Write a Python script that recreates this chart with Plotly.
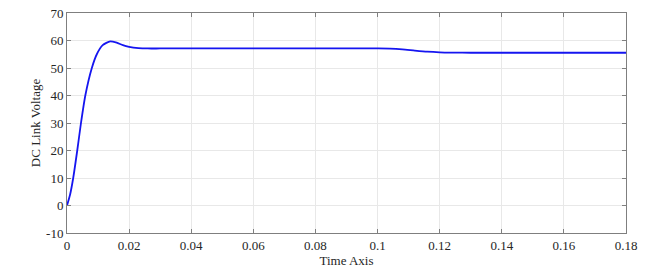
import plotly.graph_objects as go

time_s = [0.0, 0.001, 0.002, 0.0033, 0.0045, 0.0059, 0.008, 0.0096, 0.0115, 0.0139,
          0.016, 0.018, 0.020, 0.023, 0.026, 0.03, 0.05, 0.07, 0.09, 0.1, 0.104,
          0.108, 0.112, 0.116, 0.12, 0.124, 0.13, 0.15, 0.18]
dc_link_voltage = [0.0, 4.0, 10.0, 20.0, 30.0, 40.0, 50.0, 55.0, 58.3, 59.7,
                   59.2, 58.3, 57.7, 57.25, 57.1, 57.1, 57.1, 57.1, 57.1, 57.1, 57.05,
                   56.8, 56.35, 55.95, 55.7, 55.6, 55.55, 55.55, 55.55]

x_ticks = [0, 0.02, 0.04, 0.06, 0.08, 0.1, 0.12, 0.14, 0.16, 0.18]
x_tick_text = ["0", "0.02", "0.04", "0.06", "0.08", "0.1", "0.12", "0.14", "0.16", "0.18"]
y_ticks = [-10, 0, 10, 20, 30, 40, 50, 60, 70]
y_tick_text = ["-10", "0", "10", "20", "30", "40", "50", "60", "70"]

fig = go.Figure()
fig.add_trace(go.Scatter(x=time_s, y=dc_link_voltage, mode="lines",
                         line=dict(color="#1515f0", width=1.8, shape="spline", smoothing=0.6),
                         showlegend=False, hoverinfo="skip"))

serif = "Liberation Serif"
tick_font = dict(family=serif, size=13, color="#262626")
title_font = dict(family=serif, size=13, color="#262626")
axis_common = dict(showline=True, linecolor="#7f7f7f", linewidth=1, mirror="ticks",
                   ticks="inside", ticklen=4, tickcolor="#7f7f7f",
                   showgrid=True, gridcolor="#e8e8e8", gridwidth=1, zeroline=False,
                   tickfont=tick_font, automargin=False)
fig.update_xaxes(range=[0, 0.18], tickvals=x_ticks, ticktext=x_tick_text,
                 title=dict(text="Time Axis", font=title_font, standoff=2), **axis_common)
fig.update_yaxes(range=[-10, 70], tickvals=y_ticks, ticktext=y_tick_text,
                 title=dict(text="DC Link Voltage", font=title_font, standoff=2), **axis_common)
fig.update_layout(width=658, height=280, margin=dict(l=67, r=32, t=13, b=47),
                  plot_bgcolor="white", paper_bgcolor="white", font=title_font)
fig.write_html("out.html", config={"displayModeBar": False},
               post_script="document.body.style.margin='0';")
